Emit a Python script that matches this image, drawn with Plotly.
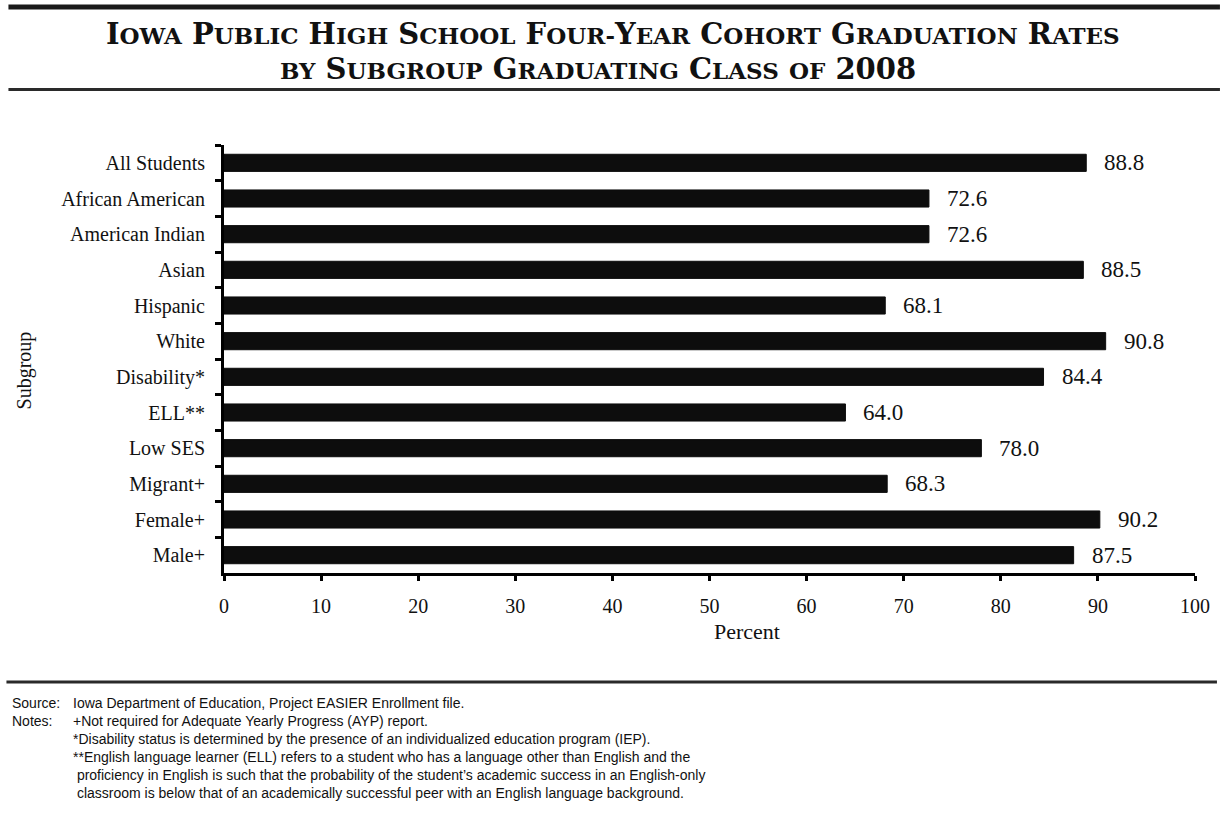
import plotly.graph_objects as go

categories = ["All Students", "African American", "American Indian", "Asian", "Hispanic",
              "White", "Disability*", "ELL**", "Low SES", "Migrant+", "Female+", "Male+"]
values = [88.8, 72.6, 72.6, 88.5, 68.1, 90.8, 84.4, 64.0, 78.0, 68.3, 90.2, 87.5]
x_ticks = [0, 10, 20, 30, 40, 50, 60, 70, 80, 90, 100]

title_line1 = "Iowa Public High School Four-Year Cohort Graduation Rates"
title_line2 = "by Subgroup Graduating Class of 2008"

footer_lines = [
    ("Source:", "Iowa Department of Education, Project EASIER Enrollment file."),
    ("Notes:", "+Not required for Adequate Yearly Progress (AYP) report."),
    ("", "*Disability status is determined by the presence of an individualized education program (IEP)."),
    ("", "**English language learner (ELL) refers to a student who has a language other than English and the"),
    ("", " proficiency in English is such that the probability of the student\u2019s academic success in an English-only"),
    ("", " classroom is below that of an academically successful peer with an English language background."),
]

W, H = 1222, 819
L, R, T, B = 224, 1197, 145, 573


def px(x):
    return (x - L) / (R - L)


def py(y):
    return (B - y) / (B - T)


def small_caps(s, big=29, small=23):
    out = []
    buf = ""
    for ch in s:
        if ch.islower():
            buf += ch.upper()
        else:
            if buf:
                out.append('<span style="font-size:%dpx">%s</span>' % (small, buf))
                buf = ""
            if ch == " ":
                out.append(" ")
            elif ch == "-":
                out.append('<span style="font-size:%dpx">-</span>' % small)
            else:
                out.append('<span style="font-size:%dpx">%s</span>' % (big, ch))
    if buf:
        out.append('<span style="font-size:%dpx">%s</span>' % (small, buf))
    return "".join(out)


serif = "Liberation Serif, Times New Roman, serif"
title_serif = "DejaVu Serif, Liberation Serif, serif"
sans = "Liberation Sans, Arial, sans-serif"

fig = go.Figure()
fig.add_trace(go.Bar(
    y=categories, x=values, orientation="h",
    marker=dict(color="#0d0d0d", line=dict(color="#0d0d0d", width=1)),
    width=0.48, hoverinfo="skip",
))

annotations = []
for c, v in zip(categories, values):
    annotations.append(dict(
        x=v, y=c, xref="x", yref="y", text="%.1f" % v, showarrow=False,
        xanchor="left", yanchor="middle", xshift=16,
        font=dict(family=serif, size=23, color="#111"),
    ))

annotations.append(dict(
    x=px(614), y=py(34), xref="paper", yref="paper",
    text="<b>" + small_caps(title_line1, 29, 23) + "</b>",
    showarrow=False, xanchor="center", yanchor="middle", align="center",
    font=dict(family=title_serif, size=29, color="#111"),
))
annotations.append(dict(
    x=px(599), y=py(69), xref="paper", yref="paper",
    text="<b>" + small_caps(title_line2, 29, 23) + "</b>",
    showarrow=False, xanchor="center", yanchor="middle", align="center",
    font=dict(family=title_serif, size=29, color="#111"),
))
annotations.append(dict(
    x=px(24), y=py(370), xref="paper", yref="paper", text="Subgroup", textangle=-90,
    showarrow=False, xanchor="center", yanchor="middle",
    font=dict(family=serif, size=20, color="#111"),
))
annotations.append(dict(
    x=px(748), y=py(631), xref="paper", yref="paper", text="Percent",
    showarrow=False, xanchor="center", yanchor="middle",
    font=dict(family=serif, size=22, color="#111"),
))

y0 = 703
for i, (lab, txt) in enumerate(footer_lines):
    yy = y0 + i * 18
    if lab:
        annotations.append(dict(
            x=px(10), y=py(yy), xref="paper", yref="paper", text=lab,
            showarrow=False, xanchor="left", yanchor="middle",
            font=dict(family=sans, size=14, color="#111"),
        ))
    annotations.append(dict(
        x=px(71), y=py(yy), xref="paper", yref="paper",
        text=txt.replace(" ", "\u00a0", 1) if txt.startswith(" ") else txt,
        showarrow=False, xanchor="left", yanchor="middle",
        font=dict(family=sans, size=14, color="#111"),
    ))

shapes = [
    dict(type="line", xref="paper", yref="paper", x0=px(8), x1=px(1222), y0=py(7), y1=py(7),
         line=dict(color="#1a1a1a", width=5)),
    dict(type="line", xref="paper", yref="paper", x0=px(8), x1=px(1222), y0=py(89.5), y1=py(89.5),
         line=dict(color="#2a2a2a", width=3)),
    dict(type="line", xref="paper", yref="paper", x0=px(6), x1=px(1219), y0=py(682), y1=py(682),
         line=dict(color="#2a2a2a", width=3)),
]

fig.update_layout(
    width=W, height=H, autosize=False,
    margin=dict(l=L, r=W - R, t=T, b=H - B, pad=0),
    plot_bgcolor="white", paper_bgcolor="white",
    showlegend=False, bargap=0.5,
    annotations=annotations, shapes=shapes,
    xaxis=dict(
        range=[0, 100], tickvals=x_ticks, ticktext=[str(t) for t in x_ticks],
        showgrid=False, zeroline=False, showline=True, linecolor="#000", linewidth=3,
        ticks="outside", ticklen=5, tickwidth=3, tickcolor="#000",
        tickfont=dict(family=serif, size=20, color="#111"), ticklabelstandoff=8,
        fixedrange=True,
    ),
    yaxis=dict(
        categoryorder="array", categoryarray=categories, autorange="reversed",
        range=[11.5, -0.5],
        showgrid=False, zeroline=False, showline=True, linecolor="#000", linewidth=3,
        ticks="outside", ticklen=6, tickwidth=3, tickcolor="#000", tickson="boundaries",
        tickfont=dict(family=serif, size=20, color="#111"), ticklabelstandoff=12,
        fixedrange=True,
    ),
    font=dict(family=serif, color="#111"),
)

fig.write_html("out.html", config={"displayModeBar": False})
